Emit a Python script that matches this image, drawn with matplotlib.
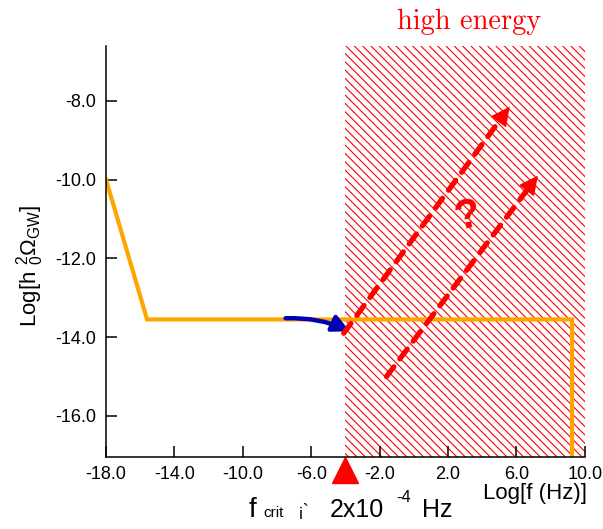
import matplotlib
matplotlib.use('Agg')
import numpy as np
import matplotlib.pyplot as plt

plt.rcParams['font.family'] = ['Liberation Sans', 'DejaVu Sans']
plt.rcParams['mathtext.fontset'] = 'custom'
plt.rcParams['mathtext.rm'] = 'Liberation Sans'
plt.rcParams['mathtext.it'] = 'Liberation Sans'
plt.rcParams['hatch.linewidth'] = 0.8

# spectrum (orange)
spec_x = [-18.0, -15.6, 9.25, 9.25]
spec_y = [-10.0, -13.55, -13.55, -17.3]

# high energy band
band_x = [-4.0, 10.0]
f_crit_log = -4.0

# blue arrow (start, end)
blue_start = (-7.5, -13.52)
blue_end = (-3.75, -13.85)

# red dashed arrows (start, tip)
red_arrows = [((-4.1, -13.9), (5.6, -8.15)),
              ((-1.6, -15.0), (7.25, -9.9))]
qmark_pos = (3.1, -10.95)

xticks = [-18, -14, -10, -6, -2, 2, 6, 10]
yticks = [-8, -10, -12, -14, -16]

fig = plt.figure(figsize=(6.03, 5.29), dpi=100)
ax = fig.add_axes([0.1758, 0.1355, 0.7942, 0.7775])
ax.set_xlim(-18, 10)
ax.set_ylim(-17.05, -6.61)

ax.axvspan(band_x[0], band_x[1], facecolor='none', edgecolor='red',
           hatch='\\\\\\\\', linewidth=0, zorder=1)

ax.plot(spec_x, spec_y, color='#FFA500', lw=3, zorder=2, solid_joinstyle='miter')

ax.annotate('', xy=blue_end, xytext=blue_start,
            arrowprops=dict(arrowstyle='-|>,head_length=0.5,head_width=0.25',
                            color='#0000B4', lw=3.2, mutation_scale=20,
                            shrinkA=0, shrinkB=0,
                            connectionstyle='arc3,rad=-0.12'), zorder=3)

for start, tip in red_arrows:
    p0 = ax.transData.transform(start)
    p1 = ax.transData.transform(tip)
    u = (p1 - p0) / np.hypot(*(p1 - p0))
    # dashed shaft
    ax.annotate('', xy=tip, xytext=start,
                arrowprops=dict(arrowstyle='-', color='red', lw=3.8,
                                ls=(0, (2.3, 1.9)), shrinkA=0, shrinkB=9),
                zorder=4)
    # solid head
    ax.annotate('', xy=tip, xytext=tuple(-u * 12), textcoords='offset points',
                xycoords='data',
                arrowprops=dict(arrowstyle='-|>,head_length=0.6,head_width=0.3',
                                color='red', lw=1, mutation_scale=20,
                                shrinkA=0, shrinkB=0),
                zorder=4)

ax.text(qmark_pos[0], qmark_pos[1], '?', color='red', fontweight='bold',
        fontsize=30, rotation=12, ha='center', va='center', zorder=5)

# marker for f_crit below the axis
ax.plot([f_crit_log], [-0.032], marker='^', markersize=19, color='red',
        transform=ax.get_xaxis_transform(), clip_on=False, linestyle='none')

ax.set_xticks(xticks)
ax.set_xticklabels(['%.1f' % v for v in xticks])
ax.set_yticks(yticks)
ax.set_yticklabels(['%.1f' % v for v in yticks])
ax.spines['top'].set_visible(False)
ax.spines['right'].set_visible(False)
for s in ['left', 'bottom']:
    ax.spines[s].set_linewidth(1.1)
ax.tick_params(direction='in', length=8, width=1.1, labelsize=13)
ax.tick_params(axis='y', pad=7)
ax.tick_params(axis='x', pad=6)

fig.text(30 / 603, 1 - 266 / 529, r'Log[h $^{2}_{0}\Omega_{\mathrm{GW}}$]',
         rotation=90, fontsize=16, ha='center', va='center')
fig.text(535 / 603, 1 - 493 / 529, 'Log[f (Hz)]', fontsize=16,
         ha='center', va='center')
fig.text(469 / 603, 1 - 22 / 529, 'high energy', family='cmr10', color='red',
         fontsize=20.5, ha='center', va='center')

# f_crit label
base = 1 - 517 / 529
fig.text(249 / 603, base, 'f', fontsize=20, va='baseline')
fig.text(263 / 603, base, 'crit', fontsize=11, va='baseline')
fig.text(298 / 603, base, '¡`', fontsize=13, va='baseline')
fig.text(330 / 603, base, '2x10', fontsize=18, va='baseline')
fig.text(396 / 603, 1 - 502 / 529, '-4', fontsize=12, va='baseline')
fig.text(422 / 603, base, 'Hz', fontsize=18, va='baseline')

fig.savefig('out.png', dpi=100)
